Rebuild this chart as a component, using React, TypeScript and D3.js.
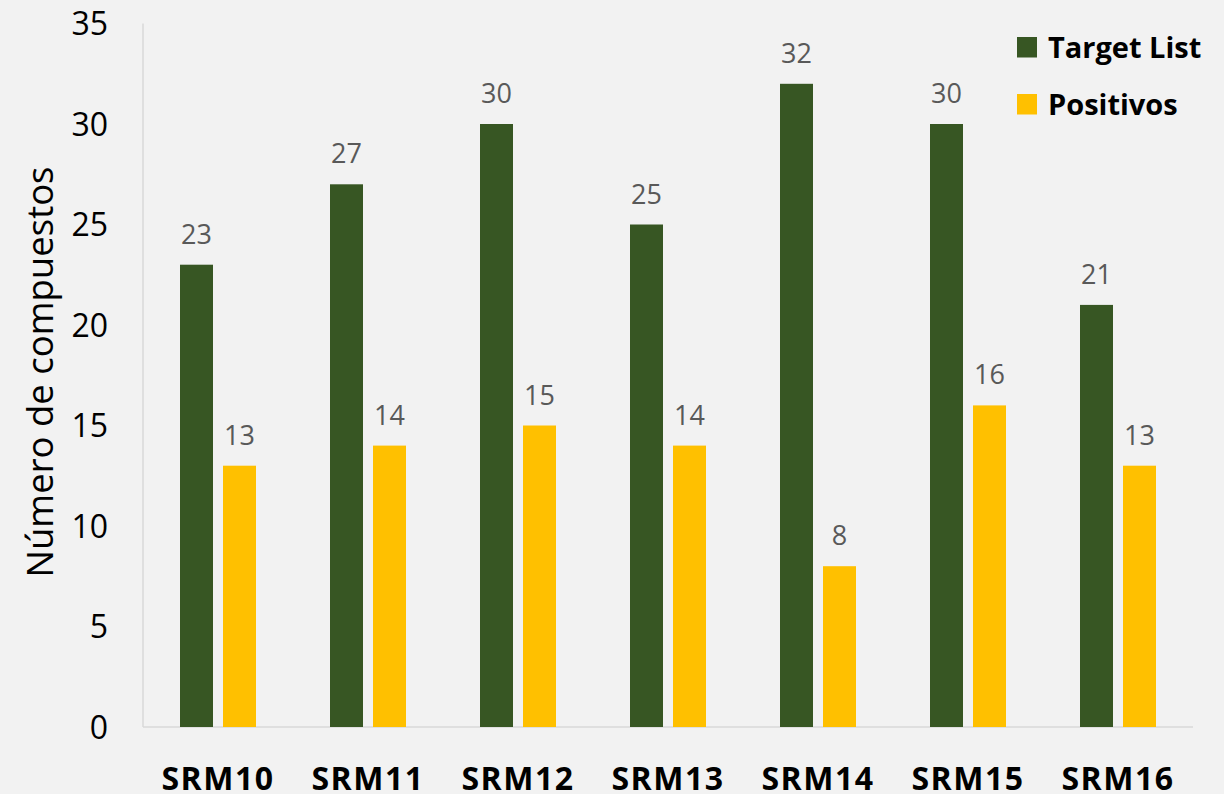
import React from "react";
import * as d3 from "d3";

const categories = ["SRM10", "SRM11", "SRM12", "SRM13", "SRM14", "SRM15", "SRM16"];
const targetList = [23, 27, 30, 25, 32, 30, 21];
const positivos = [13, 14, 15, 14, 8, 16, 13];
const yTicks = [0, 5, 10, 15, 20, 25, 30, 35];
const seriesNames = ["Target List", "Positivos"];
const colors = ["#375623", "#FFC000"];

const W = 1224;
const H = 794;
const left = 143;
const right = 1193;
const top = 23.5;
const bottom = 727;
const font = "'Open Sans', sans-serif";

export default function App() {
  const x = d3.scaleBand<string>().domain(categories).range([left, right]).padding(0);
  const y = d3.scaleLinear().domain([0, 35]).range([bottom, top]);
  const barW = 33;
  const gap = 10;
  const series = [targetList, positivos];

  return (
    <svg width={W} height={H} style={{ position: "absolute", left: 0, top: 0, display: "block" }}>
      <rect x={0} y={0} width={W} height={H} fill="#F2F2F2" />
      {/* axes */}
      <line x1={left} x2={left} y1={top} y2={bottom} stroke="#D9D9D9" strokeWidth={1.5} />
      <line x1={left} x2={right} y1={bottom} y2={bottom} stroke="#D9D9D9" strokeWidth={1.5} />
      {yTicks.map((t) => (
        <text key={t} x={108} y={y(t)} dy="0.36em" textAnchor="end" fontFamily={font} fontSize={32} fill="#000">
          {t}
        </text>
      ))}
      <text
        transform={`translate(53,372) rotate(-90)`}
        textAnchor="middle"
        fontFamily={font}
        fontSize={36.5}
        fill="#000"
      >
        Número de compuestos
      </text>
      {categories.map((c, i) => {
        const cx = (x(c) as number) + x.bandwidth() / 2;
        return (
          <g key={c}>
            {series.map((s, k) => {
              const bx = k === 0 ? cx - gap / 2 - barW : cx + gap / 2;
              const v = s[i];
              return (
                <g key={k}>
                  <rect x={bx} y={y(v)} width={barW} height={bottom - y(v)} fill={colors[k]} />
                  <text
                    x={bx + barW / 2}
                    y={y(v) - 21}
                    textAnchor="middle"
                    fontFamily={font}
                    fontSize={27}
                    fill="#595959"
                  >
                    {v}
                  </text>
                </g>
              );
            })}
            <text
              x={cx}
              y={790}
              textAnchor="middle"
              fontFamily={font}
              fontWeight="bold"
              fontSize={32}
              letterSpacing={1.5}
              fill="#000"
            >
              {c}
            </text>
          </g>
        );
      })}
      {/* legend */}
      {seriesNames.map((n, k) => (
        <g key={n} transform={`translate(1017,${37 + k * 57})`}>
          <rect x={0} y={0} width={20} height={20.5} fill={colors[k]} />
          <text x={31} y={21} fontFamily={font} fontWeight="bold" fontSize={29} fill="#000">
            {n}
          </text>
        </g>
      ))}
    </svg>
  );
}
